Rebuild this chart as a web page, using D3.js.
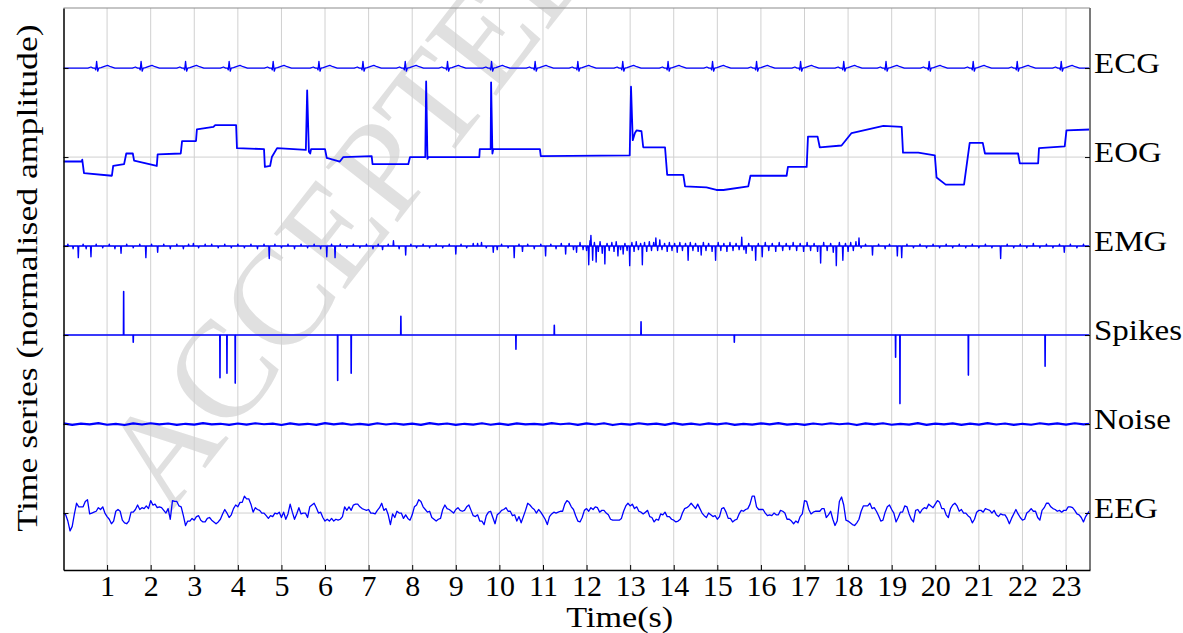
<!DOCTYPE html>
<html lang="en">
<head>
<meta charset="UTF-8">
<title>Time series</title>
<style>
  body { margin: 0; background: #fff; }
  text { font-family: "Liberation Serif", "Times New Roman", serif; }
</style>
</head>
<body>
<svg id="chart" width="1183" height="633"></svg>
<script src="https://d3js.org/d3.v7.min.js"></script>
<script>
// ---- data ----
const seriesNames = ["ECG", "EOG", "EMG", "Spikes", "Noise", "EEG"];
const xTickValues = [1,2,3,4,5,6,7,8,9,10,11,12,13,14,15,16,17,18,19,20,21,22,23];
const tEnd = 23.55;

// ECG: R-peak times and one beat shape (offset s, amplitude)
const ecgBeatTimes = [0.76,1.78,2.80,3.80,4.81,5.86,6.87,7.84,8.81,9.82,10.82,11.80,12.83,13.87,14.89,15.90,16.91,17.90,18.87,19.86,20.87,21.88,22.89];
const ecgShapeT = [-0.20,-0.13,-0.08,-0.04,-0.02,0,0.025,0.05,0.10,0.18,0.25,0.32,0.42];
const ecgShapeV = [0,0.012,0,0,-0.02,0.075,-0.035,0,0.005,0.02,0.03,0.015,0];

// EOG: step trace
const eogT = [0.00,0.42,0.43,0.47,1.11,1.14,1.39,1.44,1.59,1.62,2.14,2.16,2.69,2.72,3.04,3.06,3.44,3.48,3.96,3.98,4.60,4.62,4.74,4.78,4.90,5.56,5.59,5.63,5.66,5.68,6.00,6.04,6.34,6.42,7.07,7.09,7.91,7.95,8.30,8.32,8.35,8.37,9.54,9.55,9.80,9.81,9.84,9.86,10.93,10.95,12.99,13.02,13.06,13.11,13.15,13.26,13.30,13.80,13.85,14.22,14.26,14.75,14.98,15.14,15.71,15.76,16.59,16.62,17.05,17.08,17.30,17.35,17.85,18.08,18.81,19.23,19.26,19.61,19.99,20.03,20.24,20.66,20.79,21.09,21.14,21.90,21.94,22.36,22.38,22.97,23.01,23.55];
const eogV = [-0.05,-0.05,-0.03,-0.18,-0.21,-0.10,-0.08,0.04,0.04,-0.04,-0.10,0.03,0.04,0.18,0.18,0.31,0.34,0.36,0.36,0.10,0.09,-0.11,-0.10,0.00,0.10,0.08,0.75,0.06,0.04,0.09,0.09,-0.01,-0.05,0.00,0.01,-0.08,-0.08,0.00,0.00,0.85,-0.02,0.00,0.00,0.09,0.09,0.84,0.04,0.09,0.09,0.01,0.02,0.79,0.19,0.27,0.30,0.29,0.11,0.11,-0.20,-0.20,-0.33,-0.34,-0.37,-0.37,-0.33,-0.21,-0.21,-0.11,-0.11,0.23,0.23,0.11,0.13,0.27,0.35,0.34,0.05,0.05,0.02,-0.23,-0.31,-0.31,0.16,0.16,0.04,0.04,-0.07,-0.07,0.10,0.12,0.30,0.31];

// EMG: bursts (time s, amplitude)
const emgT = [0.10,0.22,0.34,0.45,0.52,0.63,0.75,0.90,1.05,1.18,1.32,1.45,1.60,1.75,1.89,2.02,2.16,2.30,2.45,2.60,2.75,2.87,2.98,3.10,3.25,3.40,3.55,3.70,3.85,4.00,4.15,4.30,4.45,4.60,4.72,4.85,5.00,5.15,5.30,5.45,5.60,5.75,5.90,6.04,6.15,6.23,6.35,6.50,6.65,6.80,6.95,7.10,7.22,7.32,7.45,7.57,7.70,7.85,7.97,8.10,8.25,8.40,8.55,8.70,8.85,9.00,9.12,9.25,9.40,9.50,9.59,9.70,9.86,9.95,10.05,10.20,10.34,10.45,10.53,10.65,10.80,10.95,11.06,11.18,11.30,11.42,11.52,11.60,11.70,11.77,11.85,11.92,
  12.00,12.05,12.08,12.10,12.14,12.18,12.22,12.27,12.31,12.36,12.42,12.47,12.52,12.58,12.63,12.68,12.72,12.78,12.84,12.88,12.93,12.99,13.04,13.09,13.14,13.19,13.24,13.28,13.33,13.38,13.44,13.49,13.54,13.59,13.63,13.68,13.73,13.79,13.85,13.90,13.96,14.02,14.08,14.14,14.20,14.27,14.33,14.38,14.44,14.50,14.56,14.63,14.68,14.74,14.80,14.88,14.96,15.02,15.08,15.15,15.22,15.29,15.36,15.43,15.50,15.56,15.61,15.66,15.72,15.80,15.88,15.94,16.03,16.10,16.18,16.26,16.34,16.42,16.50,16.58,16.66,16.74,16.82,16.90,16.98,17.06,17.14,17.22,17.30,17.37,17.44,17.52,17.60,17.66,17.73,17.80,17.88,17.94,18.00,18.06,18.12,18.18,18.25,18.30,
  18.40,18.56,18.70,18.85,18.95,19.13,19.23,19.35,19.50,19.65,19.80,19.95,20.10,20.25,20.40,20.55,20.70,20.85,21.00,21.15,21.30,21.50,21.65,21.80,21.95,22.10,22.25,22.40,22.55,22.70,22.85,22.96,23.10,23.25,23.40];
const emgV = [0.02,-0.03,-0.13,0.02,-0.03,-0.12,0.02,-0.02,0.02,-0.03,-0.08,0.02,-0.02,0.02,-0.13,0.02,-0.07,0.02,-0.03,0.02,-0.03,0.02,0.03,-0.02,0.02,0.02,-0.02,0.02,-0.02,0.02,-0.02,0.02,-0.03,0.02,-0.14,0.02,-0.02,0.02,-0.03,0.02,-0.02,0.02,-0.03,-0.12,0.02,-0.13,0.02,-0.02,0.02,-0.02,0.02,-0.03,0.02,-0.04,0.02,0.06,-0.03,-0.10,0.02,-0.02,0.02,-0.02,0.02,-0.02,0.02,-0.09,0.02,-0.02,0.03,0.03,0.04,-0.02,-0.07,-0.04,0.02,-0.02,-0.13,0.02,-0.06,0.02,-0.03,0.02,-0.11,0.02,-0.03,0.03,-0.09,0.03,-0.04,-0.07,0.04,-0.04,
  -0.05,-0.21,0.06,0.12,-0.16,0.04,-0.18,-0.06,0.05,-0.08,-0.20,0.03,-0.05,0.04,-0.06,0.05,-0.11,-0.04,-0.09,0.03,-0.05,-0.22,0.04,-0.06,0.05,-0.04,0.03,-0.21,0.04,-0.06,0.05,-0.05,0.04,0.09,-0.05,0.07,-0.04,0.03,-0.06,0.04,-0.05,0.03,-0.07,0.04,-0.05,0.03,-0.16,0.04,-0.05,0.03,-0.06,-0.10,0.04,-0.05,0.03,-0.06,-0.16,0.04,-0.05,0.03,-0.06,0.04,-0.05,0.03,-0.04,0.10,-0.04,-0.08,0.03,-0.05,-0.16,0.03,-0.12,0.04,-0.05,0.03,-0.06,0.04,-0.05,0.03,-0.04,0.04,-0.05,0.03,-0.06,0.04,-0.05,0.03,-0.06,-0.19,0.04,-0.05,0.03,-0.07,-0.22,0.04,-0.16,0.03,-0.06,0.04,-0.05,0.05,0.09,-0.02,
  0.02,-0.10,0.02,-0.03,0.02,-0.11,-0.13,0.02,-0.02,0.02,-0.02,0.02,-0.02,0.02,-0.02,0.02,-0.02,0.02,-0.02,0.02,-0.02,-0.14,0.02,-0.02,0.02,-0.02,0.03,-0.02,0.02,-0.02,0.02,-0.07,0.02,-0.02,0.02];

// Spikes
const spikeT = [1.38,1.60,3.59,3.75,3.94,6.29,6.60,7.74,10.38,11.26,13.25,15.39,19.09,19.19,20.76,22.52];
const spikeV = [0.49,-0.08,-0.48,-0.43,-0.54,-0.51,-0.43,0.21,-0.16,0.11,0.15,-0.08,-0.25,-0.77,-0.45,-0.35];

// Noise, one value every 0.2 s
const noiseStep = 0.2;
const noiseV = [0.008,-0.01,0.005,-0.003,0.01,-0.008,0.002,-0.011,0.007,-0.005,0.009,-0.003,0.006,-0.01,0.003,-0.006,0.011,-0.004,0.003,-0.009,0.006,-0.007,0.009,-0.002,0.005,-0.011,0.008,-0.006,0.003,-0.009,0.01,-0.003,0.007,-0.008,0.002,-0.01,0.009,-0.005,0.006,-0.007,0.004,-0.009,0.011,-0.003,0.006,-0.009,0.003,-0.006,0.009,-0.008,0.005,-0.01,0.008,-0.004,0.003,-0.007,0.01,-0.002,0.006,-0.009,0.007,-0.005,0.009,-0.011,0.003,-0.006,0.009,-0.003,0.005,-0.009,0.011,-0.006,0.004,-0.008,0.007,-0.003,0.009,-0.01,0.002,-0.006,0.008,-0.004,0.01,-0.007,0.003,-0.009,0.006,-0.005,0.009,-0.002,0.006,-0.011,0.007,-0.003,0.009,-0.008,0.003,-0.006,0.01,-0.009,0.005,-0.003,0.008,-0.009,0.004,-0.007,0.011,-0.005,0.006,-0.01,0.003,-0.008,0.009,-0.004,0.007,-0.006,0.009,-0.003,0.005];

// EEG, one value every 0.05 s
const eegStep = 0.05;
const eegV = [
  0.00,-0.02,-0.09,-0.20,-0.15,-0.01,0.11,0.07,0.07,0.07,
  0.13,0.15,-0.01,0.00,0.01,0.02,0.06,0.04,0.07,0.00,
  -0.04,-0.07,-0.12,-0.09,0.02,0.04,0.02,-0.08,-0.11,-0.12,
  -0.09,0.01,0.01,0.04,0.09,0.04,0.06,0.05,0.08,0.05,
  0.14,0.09,0.10,0.06,0.07,0.06,0.03,0.00,0.05,-0.07,
  0.14,0.13,0.13,0.08,0.07,-0.03,-0.14,-0.09,-0.09,-0.06,
  -0.08,-0.04,-0.03,-0.08,-0.10,-0.10,-0.06,-0.05,-0.08,-0.10,
  -0.12,-0.10,-0.07,-0.01,0.04,0.00,-0.05,-0.02,0.05,0.09,
  0.07,0.12,0.12,0.19,0.16,0.16,0.10,0.01,0.06,0.04,
  0.03,0.00,0.00,-0.03,-0.06,-0.03,-0.04,0.00,-0.01,0.01,
  -0.05,0.01,-0.07,-0.01,0.10,0.01,-0.07,-0.01,0.06,-0.01,
  0.00,0.00,-0.05,0.07,0.09,0.11,0.06,0.00,0.01,-0.05,
  -0.09,-0.07,-0.09,-0.06,-0.09,-0.07,-0.08,-0.07,-0.04,0.07,
  0.03,0.07,0.03,0.09,0.10,0.10,0.07,0.05,0.04,0.03,
  0.04,0.00,0.00,-0.01,0.03,0.06,0.11,0.03,0.05,-0.02,
  -0.13,-0.01,-0.05,0.02,0.00,0.00,-0.06,-0.02,-0.06,-0.08,
  -0.02,0.07,0.09,0.15,0.13,0.07,0.04,0.01,0.02,-0.05,
  -0.07,-0.09,-0.07,-0.06,0.04,0.09,0.05,0.04,0.02,0.00,
  0.04,0.06,0.03,0.02,0.03,0.07,0.09,0.03,-0.03,-0.04,
  -0.02,-0.09,-0.09,-0.13,-0.03,0.01,0.02,-0.05,-0.12,-0.02,
  0.00,0.03,0.04,0.06,0.02,0.02,-0.03,-0.02,-0.09,-0.04,
  -0.11,-0.04,0.03,0.11,0.09,0.06,0.04,0.00,0.04,0.01,
  -0.03,-0.07,-0.13,-0.04,-0.01,0.01,0.00,0.01,0.02,0.02,
  0.10,0.14,0.12,0.07,0.04,-0.03,-0.09,-0.10,-0.05,0.03,
  0.05,0.02,0.06,0.04,0.07,0.06,0.01,0.03,0.03,0.00,
  -0.02,-0.07,-0.08,-0.08,-0.08,-0.08,-0.06,0.02,0.08,0.11,
  0.08,0.10,0.05,0.07,0.02,0.01,-0.01,0.01,0.03,-0.04,
  -0.05,-0.10,-0.07,-0.08,-0.01,-0.02,0.01,-0.04,-0.04,-0.07,
  -0.08,-0.10,-0.09,-0.07,0.00,0.05,0.06,0.08,0.11,0.08,
  0.05,0.10,0.05,0.00,-0.03,-0.05,0.00,-0.02,-0.04,-0.03,
  -0.07,-0.04,0.05,0.06,0.01,-0.06,-0.06,-0.10,-0.08,-0.07,
  -0.01,0.03,0.02,0.04,0.05,0.10,0.19,0.19,0.07,0.04,
  0.04,0.04,0.00,-0.03,-0.02,-0.03,0.00,-0.02,-0.02,0.03,
  0.02,0.00,-0.07,-0.07,-0.09,-0.12,-0.09,-0.11,-0.04,-0.01,
  0.14,0.13,0.04,-0.01,0.01,0.02,0.02,0.02,0.05,0.05,
  -0.05,-0.02,0.02,-0.07,-0.14,-0.09,0.13,0.18,0.09,-0.08,
  -0.09,-0.11,-0.13,-0.14,-0.11,-0.07,0.02,0.08,0.08,0.08,
  0.11,0.05,0.06,0.02,-0.03,-0.09,-0.08,0.01,0.07,0.09,
  0.04,0.00,-0.10,-0.05,0.01,0.01,0.08,0.07,-0.01,-0.07,
  -0.10,0.03,0.04,0.00,0.04,0.06,0.05,0.10,0.08,0.06,
  0.10,0.14,0.12,0.05,0.05,-0.02,-0.05,0.05,0.09,0.11,
  0.08,0.02,0.04,0.00,0.00,-0.03,-0.05,-0.11,-0.07,0.01,
  0.03,0.03,0.01,0.05,0.04,0.03,0.00,0.03,-0.02,-0.04,
  -0.01,-0.02,-0.02,-0.06,-0.12,-0.06,-0.01,0.04,-0.01,-0.05,
  -0.08,-0.07,0.00,0.02,0.05,0.02,0.02,-0.05,-0.08,0.03,
  0.06,0.11,0.11,0.07,0.05,0.04,0.02,0.03,0.01,0.03,
  0.03,0.07,0.07,0.06,0.03,-0.01,-0.02,-0.05,-0.10,-0.04,
  0.00,0.03];

// ---- layout ----
const svg = d3.select("#chart");
const margin = {top: 8, right: 93, bottom: 63, left: 63.5};
const W = 1183, H = 633;
const serif = "Liberation Serif";
const x = d3.scaleLinear().domain([0, tEnd]).range([margin.left, W - margin.right]);
const y = d3.scaleLinear().domain([-5.64, 0.675]).range([H - margin.bottom, margin.top]);
const x0 = x.range()[0], x1 = x.range()[1], yTop = y.range()[1], yBot = y.range()[0];

// the original serif is wider than Times: stretch text horizontally
function stretch(sel, k) {
  sel.each(function() {
    const w = this.getComputedTextLength();
    d3.select(this).attr("textLength", w * k).attr("lengthAdjust", "spacingAndGlyphs");
  });
}

svg.append("defs").append("clipPath").attr("id", "plotclip")
  .append("rect").attr("x", x0).attr("y", yTop).attr("width", x1 - x0).attr("height", yBot - yTop);

// watermark
svg.append("text")
  .attr("transform", "translate(168,516) rotate(-52)")
  .attr("font-family", serif)
  .attr("font-size", 138)
  .attr("fill", "#e0e0e0")
  .text("ACCEPTED MANUSCRIPT");

// grid
const grid = svg.append("g").attr("stroke", "#d0d0d0").attr("stroke-width", 1);
grid.selectAll("line.v").data(xTickValues).join("line")
  .attr("x1", d => x(d)).attr("x2", d => x(d)).attr("y1", yTop).attr("y2", yBot);
grid.selectAll("line.h").data(seriesNames).join("line")
  .attr("x1", x0).attr("x2", x1).attr("y1", (d, i) => y(-i)).attr("y2", (d, i) => y(-i));

// build each series as [t, v] points
function events(ts, vs, w) {
  const pts = [[0, 0]];
  ts.forEach((t, i) => { pts.push([t - w, 0], [t, vs[i]], [t + w, 0]); });
  pts.push([tEnd, 0]);
  return pts;
}
const ecgPts = [[0, 0]];
ecgBeatTimes.forEach(b => ecgShapeT.forEach((o, j) => ecgPts.push([b + o, ecgShapeV[j]])));
ecgPts.push([tEnd, 0]);

const series = [
  {pts: ecgPts, w: 1.3},
  {pts: eogT.map((t, i) => [t, eogV[i]]), w: 1.8},
  {pts: events(emgT, emgV, 0.01), w: 1.4},
  {pts: events(spikeT, spikeV, 0.004), w: 1.6},
  {pts: noiseV.map((v, i) => [i * noiseStep, v]), w: 2.2},
  {pts: eegV.map((v, i) => [i * eegStep, v]), w: 1.3}
];

const plot = svg.append("g").attr("clip-path", "url(#plotclip)");
series.forEach((s, i) => {
  const line = d3.line().x(d => x(d[0])).y(d => y(-i + d[1]));
  plot.append("path").datum(s.pts)
    .attr("fill", "none").attr("stroke", "#0000ff")
    .attr("stroke-width", s.w).attr("stroke-linejoin", "round")
    .attr("d", line);
});

// frame
svg.append("line").attr("x1", x0).attr("x2", x1).attr("y1", yTop).attr("y2", yTop)
  .attr("stroke", "#8c8c8c").attr("stroke-width", 1.2);
svg.append("line").attr("x1", x1).attr("x2", x1).attr("y1", yTop).attr("y2", yBot)
  .attr("stroke", "#7a7a7a").attr("stroke-width", 2);

// axes
const xAxis = d3.axisBottom(x).tickValues(xTickValues).tickSizeInner(-5).tickSizeOuter(0).tickFormat(d3.format("d"));
const gx = svg.append("g").attr("transform", `translate(0,${yBot})`).call(xAxis);
gx.select(".domain").attr("stroke", "#000").attr("stroke-width", 1.5);
gx.selectAll(".tick text").attr("y", 26).attr("dy", 0)
  .attr("font-size", 30).attr("font-family", serif).attr("fill", "#000");

const yAxis = d3.axisLeft(y).tickValues(seriesNames.map((d, i) => -i)).tickSizeInner(-5).tickSizeOuter(0).tickFormat("");
const gy = svg.append("g").attr("transform", `translate(${x0},0)`).call(yAxis);
gy.select(".domain").attr("stroke", "#000").attr("stroke-width", 1.5);

const yAxisR = d3.axisRight(y).tickValues(seriesNames.map((d, i) => -i)).tickSizeInner(-5).tickSizeOuter(0).tickFormat("");
const gyr = svg.append("g").attr("transform", `translate(${x1},0)`).call(yAxisR);
gyr.select(".domain").remove();

// series names on the right
svg.selectAll("text.name").data(seriesNames).join("text")
  .attr("class", "name")
  .attr("x", x1 + 4).attr("y", (d, i) => y(-i) + 5)
  .attr("font-family", serif).attr("font-size", 30).attr("fill", "#000")
  .text(d => d)
  .call(stretch, 1.1);

// axis titles
svg.append("text").attr("x", (x0 + x1) / 2 + 43).attr("y", 627)
  .attr("text-anchor", "middle").attr("font-family", serif).attr("font-size", 30).text("Time(s)")
  .call(stretch, 1.14);
svg.append("text").attr("transform", "translate(37,278) rotate(-90)")
  .attr("text-anchor", "middle").attr("font-family", serif).attr("font-size", 30)
  .text("Time series (normalised amplitude)")
  .call(stretch, 1.19);
</script>
</body>
</html>
